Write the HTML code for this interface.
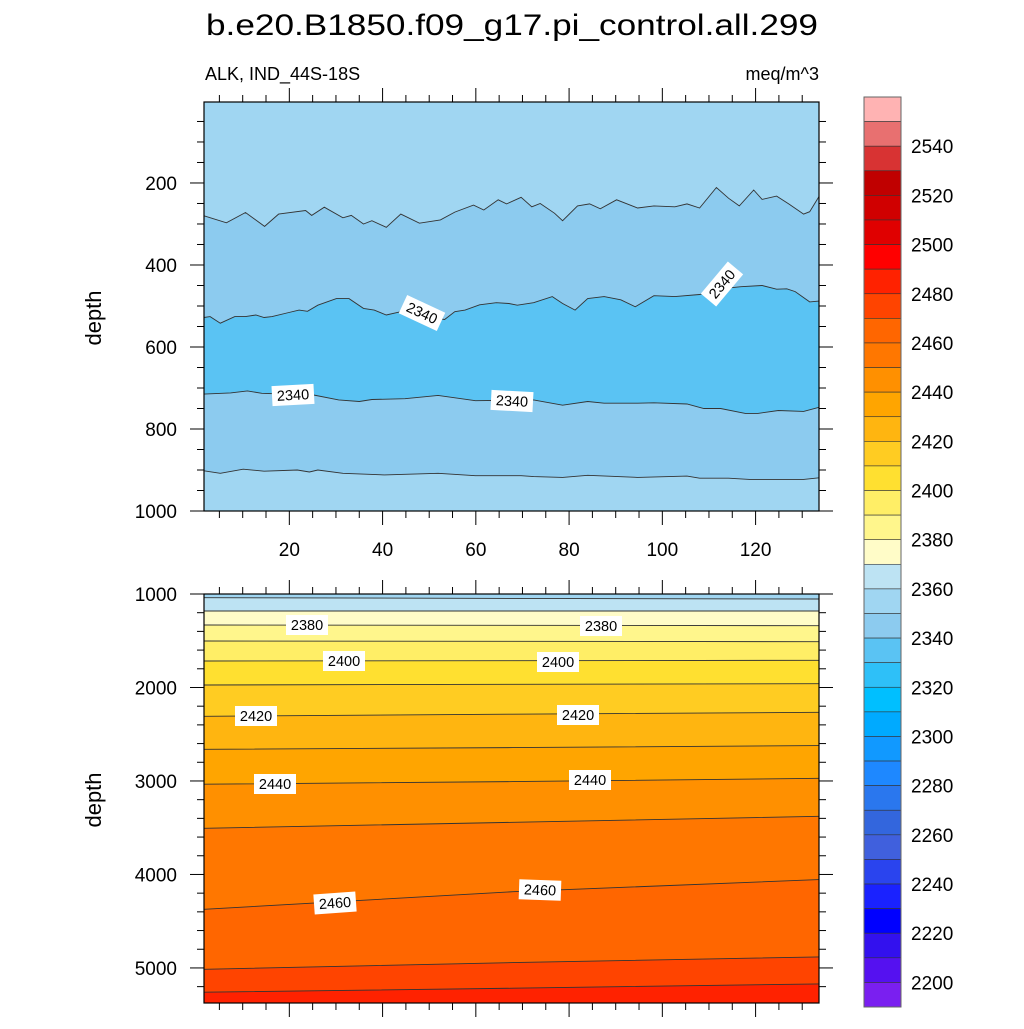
<!DOCTYPE html>
<html><head><meta charset="utf-8"><style>
html,body{margin:0;padding:0;background:#fff}
svg text{font-family:"Liberation Sans",sans-serif}
</style></head><body>
<svg id="chart" xmlns="http://www.w3.org/2000/svg" width="1024" height="1024" viewBox="0 0 1024 1024">
<text x="512" y="35" font-size="30" text-anchor="middle" textLength="612" lengthAdjust="spacingAndGlyphs">b.e20.B1850.f09_g17.pi_control.all.299</text>
<text x="205" y="80" font-size="18">ALK, IND_44S-18S</text>
<text x="819" y="80" font-size="18" text-anchor="end">meq/m^3</text>
<text transform="translate(101,318) rotate(-90)" font-size="22" text-anchor="middle">depth</text>
<text transform="translate(101,800) rotate(-90)" font-size="22" text-anchor="middle">depth</text>
<g id="top"></g>
<g id="bot"></g>
<g id="cbar"></g>
</svg>
<script>
// ---- data ----
const cbColors = ["#ffb3b3","#e87070","#d83333","#c00000","#d00000","#e00000","#ff0000","#ff2200","#ff4400","#ff6600","#ff7700","#ff9000","#ffa500","#ffb510","#ffcc22","#ffe030","#ffee66","#fff68c","#fffcc8","#bde3f3","#a0d6f2","#8ccbef","#5ac3f3","#2ec0f8","#00bfff","#00aaff","#1199ff","#1e88ff","#2a77ee","#3366dd","#4060dd","#2a44ee","#1a22ff","#0000ff","#3311ee","#5511f0","#7a1ff0"];
const cbLabels = [2540,2520,2500,2480,2460,2440,2420,2400,2380,2360,2340,2320,2300,2280,2260,2240,2220,2200];
const topYTicks = [200,400,600,800,1000];
const botYTicks = [1000,2000,3000,4000,5000];
const xTicks = [20,40,60,80,100,120];

// upper panel contour lines (x, depth)
const lineAx = [1.7,6.5,10.6,14.7,17.7,23.5,24.8,27.5,31.5,33.3,35.9,37.7,40.8,43.9,47.9,52.4,55.5,59.5,61.7,64.8,66.6,69.7,72,73.8,76.9,78.6,81.8,84.4,86.7,90.2,94.7,98.2,102.7,105.3,108,111.6,114.2,116.5,119.6,121.4,124.5,127.1,130.3,131.6,133.6];
const lineAd = [280,297,272,306,276,267,279,259,285,279,300,292,308,276,298,290,271,254,266,241,251,235,258,250,274,292,256,251,263,241,261,256,258,251,261,211,237,256,217,240,232,251,276,270,233];
const lineBx = [1.7,3,5.2,8.3,10.6,12.8,14.6,16.3,19.9,22.1,23.9,26.1,30.1,32.8,35.9,38.2,40.8,43.9,48.5,53.3,55.5,57.7,60.8,64.4,67.1,68.9,72.4,76.4,78.6,81.3,84,87.5,91.1,94.2,98.2,102.7,108,112.5,116.9,121.4,124.5,126.7,128.5,131.6,133.6];
const lineBd = [528,526,542,526,526,522,528,526,516,510,513,498,482,482,506,510,522,514,525,533,514,510,497,492,494,498,492,477,494,510,482,477,485,502,475,477,472,458,453,450,459,458,465,490,488];
const lineCx = [1.7,7.4,11,14.1,25.2,30.6,35,37.7,44.8,51.9,59.9,72.4,78.6,84,87.5,94.7,98.2,105.3,108.9,112.5,117.8,120.5,124.9,130.3,133.6];
const lineCd = [715,712,707,713,717,729,733,728,726,718,731,729,742,733,737,737,736,739,750,750,762,762,755,757,747];
const lineDx = [1.7,5.2,10.1,14.6,21.7,24.3,26.1,31.5,40.4,51.9,59.9,69.7,72.4,78.6,84,94.7,105.3,108,114.2,118.7,130.3,133.6];
const lineDd = [902,908,898,903,900,905,900,908,912,908,914,914,916,918,913,918,915,920,920,923,923,919];
const topLevels = ["#8ccbef","#5ac3f3","#8ccbef","#a0d6f2"];

// lower panel contour lines: depth at left, middle, right
const botX = [1.7,68,133.6];
const botLeft  = [1040,1182,1332,1503,1717,1973,2308,2661,3035,3506,4373,5014,5260];
const botMid   = [1047,1182,1335,1506,1713,1966,2286,2643,3007,3442,4184,4943,5217];
const botRight = [1053,1182,1339,1510,1709,1959,2265,2622,2971,3378,4055,4882,5171];
const botFills = ["#bde3f3","#fffcc8","#fff68c","#ffee66","#ffe030","#ffcc22","#ffb510","#ffa500","#ff9000","#ff7700","#ff6600","#ff4400","#ff2200"];

// ---- scales ----
const X0=204, X1=819, XMIN=1.7, XMAX=133.6;
function xs(v){return X0+(v-XMIN)/(XMAX-XMIN)*(X1-X0);}
const TY0=102, TY1=511, TD0=2.5, TD1=1000;
function yt(d){return TY0+(d-TD0)/(TD1-TD0)*(TY1-TY0);}
const BY0=594, BY1=1003, BD0=1000, BD1=5375;
function yb(d){return BY0+(d-BD0)/(BD1-BD0)*(BY1-BY0);}
const NS="http://www.w3.org/2000/svg";
function mk(tag,attrs,parent){const e=document.createElementNS(NS,tag);for(const k in attrs)e.setAttribute(k,attrs[k]);parent.appendChild(e);return e;}

function panel(g,ys,yBottom,lines,fills,bg,yTicks,yMinor,dmin,dmax,showX){
  const r=mk('rect',{x:X0,y:ys(dmin),width:X1-X0,height:ys(dmax)-ys(dmin),fill:bg},g);
  
  
  lines.forEach((ln,i)=>{
    const pts=ln.x.map((v,j)=>xs(v).toFixed(1)+','+ys(ln.d[j]).toFixed(1));
    const poly=mk('polygon',{points:pts.join(' ')+' '+X1+','+yBottom+' '+X0+','+yBottom,fill:fills[i]},g);
    
    
  });
  lines.forEach((ln)=>{
    const pts=ln.x.map((v,j)=>xs(v).toFixed(1)+','+ys(ln.d[j]).toFixed(1));
    const pl=mk('polyline',{points:pts.join(' '),fill:'none',stroke:'#333','stroke-width':0.9},g);
    
    
  });
  const top=ys(dmin), bot=ys(dmax);
  const fr=mk('rect',{x:X0,y:top,width:X1-X0,height:bot-top,fill:'none',stroke:'#000','stroke-width':1.2},g);
  
  
  // y ticks
  for(let d=Math.ceil(dmin/yMinor)*yMinor; d<=dmax; d+=yMinor){
    const y=ys(d); const major=yTicks.includes(d); const L=major?14:7;
    mk('line',{x1:X0-L,x2:X0,y1:y,y2:y,stroke:'#000','stroke-width':1},g);
    mk('line',{x1:X1,x2:X1+L,y1:y,y2:y,stroke:'#000','stroke-width':1},g);
  }
  yTicks.forEach(d=>{
    const t=mk('text',{x:177,y:ys(d)+7,'font-size':19,'text-anchor':'end'},g);
    t.textContent=d;
    
    
  });
  for(let v=5; v<=XMAX; v+=5){
    const x=xs(v); const major=v%20===0; const L=major?14:7;
    mk('line',{x1:x,x2:x,y1:top-L,y2:top,stroke:'#000','stroke-width':1},g);
    mk('line',{x1:x,x2:x,y1:bot,y2:bot+L,stroke:'#000','stroke-width':1},g);
  }
  if(showX) xTicks.forEach(v=>{
    const t=mk('text',{x:xs(v),y:bot+45,'font-size':19,'text-anchor':'middle'},g);
    t.textContent=v;
    
    
  });
}
function label(g,x,y,txt,rot){
  const gg=mk('g',{transform:`translate(${x},${y}) rotate(${rot})`},g);
  
  
  mk('rect',{x:-21,y:-10,width:42,height:20,fill:'#fff'},gg);
  const t=mk('text',{x:0,y:5,'font-size':14.5,'text-anchor':'middle'},gg);
  t.textContent=txt;
}

const gT=document.getElementById('top');
panel(gT,yt,TY1,[{x:lineAx,d:lineAd},{x:lineBx,d:lineBd},{x:lineCx,d:lineCd},{x:lineDx,d:lineDd}],topLevels,"#a0d6f2",topYTicks,50,TD0,TD1,true);
label(gT,293,395,"2340",-3);
label(gT,512,401,"2340",3);
label(gT,422,313,"2340",25);
label(gT,722,284,"2340",-50);

const gB=document.getElementById('bot');
const bl=botLeft.map((v,i)=>({x:botX,d:[v,botMid[i],botRight[i]]}));
panel(gB,yb,BY1,bl,botFills,"#a0d6f2",botYTicks,200,BD0,BD1,false);
[[307,625,"2380",0],[601,626,"2380",0],[344,661,"2400",0],[558,662,"2400",0],[256,716,"2420",0],[578,715,"2420",0],[275,784,"2440",0],[590,780,"2440",0],[335,903,"2460",-4],[540,890,"2460",2]].forEach(a=>label(gB,a[0],a[1],a[2],a[3]));

// colorbar
const gC=document.getElementById('cbar');
const CB0=97, CBH=910/cbColors.length;
cbColors.forEach((c,i)=>{
  const r=mk('rect',{x:864,y:CB0+i*CBH,width:37,height:CBH,fill:c,stroke:'#333','stroke-width':0.6},gC);
  
  
});
mk('rect',{x:864,y:CB0,width:37,height:910,fill:'none',stroke:'#666','stroke-width':1},gC);
cbLabels.forEach((v,i)=>{
  const k=(2560-v)/10;
  const t=mk('text',{x:911,y:CB0+k*CBH+7,'font-size':19},gC);
  t.textContent=v;
  
  
});
</script>
</body></html>
